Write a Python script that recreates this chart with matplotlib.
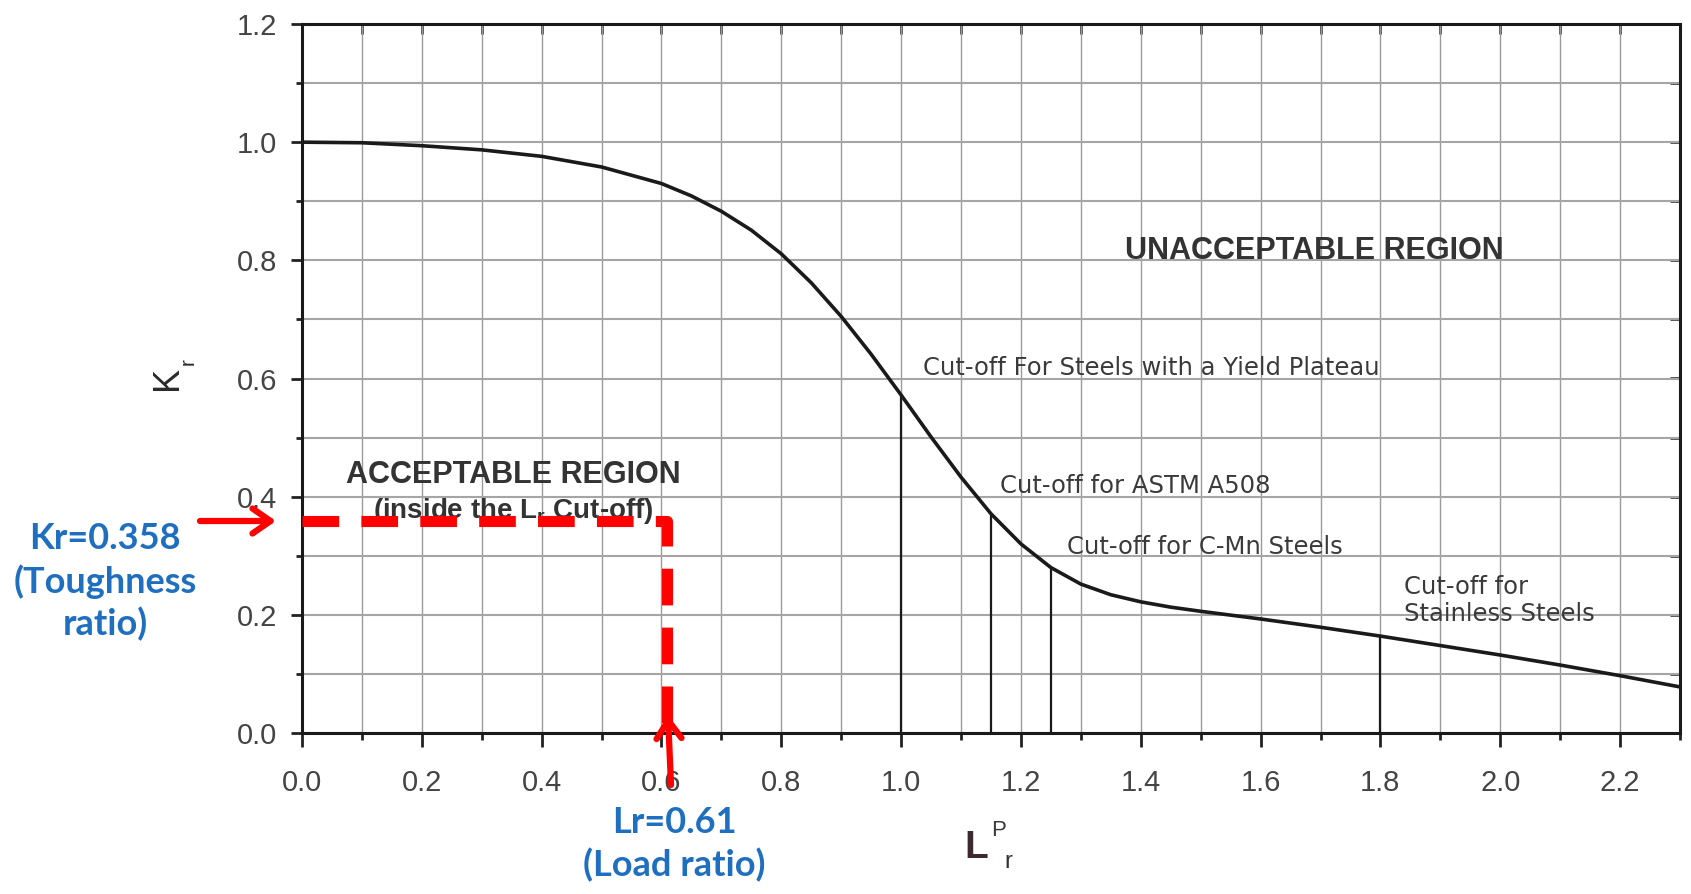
import matplotlib
matplotlib.use("Agg")
import matplotlib.pyplot as plt
from matplotlib.ticker import MultipleLocator, FixedLocator

# ---------------- data ----------------
lr_curve = [0.0, 0.1, 0.2, 0.3, 0.4, 0.5, 0.6, 0.65, 0.7, 0.75, 0.8, 0.85, 0.9, 0.95,
            1.0, 1.05, 1.1, 1.15, 1.2, 1.25, 1.3, 1.35, 1.4, 1.45, 1.5, 1.6, 1.7,
            1.8, 1.9, 2.0, 2.1, 2.2, 2.3]
kr_curve = [1.000, 0.999, 0.994, 0.987, 0.976, 0.958, 0.930, 0.909, 0.883, 0.851, 0.811,
            0.762, 0.705, 0.641, 0.572, 0.501, 0.433, 0.371, 0.320, 0.280, 0.252, 0.234,
            0.222, 0.213, 0.206, 0.193, 0.179, 0.164, 0.148, 0.132, 0.115, 0.097, 0.078]

cutoff_lr = [1.0, 1.15, 1.25, 1.8]
cutoff_kr = [0.572, 0.371, 0.280, 0.164]
cutoff_labels = ["Cut-off For Steels with a Yield Plateau",
                 "Cut-off for ASTM A508",
                 "Cut-off for C-Mn Steels",
                 "Cut-off for\nStainless Steels"]
cutoff_label_xy = [(1.037, 0.618), (1.165, 0.418), (1.277, 0.315), (1.839, 0.224)]

point_lr = 0.61
point_kr = 0.358

x_ticks = [0.0, 0.2, 0.4, 0.6, 0.8, 1.0, 1.2, 1.4, 1.6, 1.8, 2.0, 2.2]
y_ticks = [0.0, 0.2, 0.4, 0.6, 0.8, 1.0, 1.2]

# ---------------- figure ----------------
W, H = 1691, 894
fig = plt.figure(figsize=(W / 100, H / 100), dpi=100)
fig.patch.set_facecolor("white")

def fx(px):
    return px / W

def fy(py):
    return 1 - py / H

ax = fig.add_axes([fx(302), fy(733), fx(1680) - fx(302), fy(24) - fy(733)])
ax.set_xlim(0, 2.3)
ax.set_ylim(0, 1.2)

tick_font = "Liberation Sans"
ax.xaxis.set_major_locator(FixedLocator(x_ticks))
ax.yaxis.set_major_locator(FixedLocator(y_ticks))
ax.xaxis.set_minor_locator(MultipleLocator(0.1))
ax.yaxis.set_minor_locator(MultipleLocator(0.1))
ax.set_xticklabels([f"{v:.1f}" for v in x_ticks])
ax.set_yticklabels([f"{v:.1f}" for v in y_ticks])
for lab in ax.get_xticklabels() + ax.get_yticklabels():
    lab.set_fontfamily(tick_font)
    lab.set_fontsize(21)
    lab.set_color("#444444")

ax.tick_params(axis="x", which="major", direction="out", length=10, width=2.0, pad=16, color="#222222")
ax.tick_params(axis="x", which="minor", direction="out", length=5, width=2.0, color="#222222")
ax.tick_params(axis="y", which="major", direction="out", length=8, width=2.0, pad=10, color="#222222")
ax.tick_params(axis="y", which="minor", direction="out", length=4, width=2.0, color="#222222")

# inward ticks on top and right
secx = ax.secondary_xaxis("top")
secx.xaxis.set_major_locator(MultipleLocator(0.1))
secx.tick_params(direction="in", length=7, width=1.8, labeltop=False, color="#222222")
secy = ax.secondary_yaxis("right")
secy.yaxis.set_major_locator(MultipleLocator(0.1))
secy.tick_params(direction="in", length=7, width=1.8, labelright=False, color="#222222")
for s in list(secx.spines.values()) + list(secy.spines.values()):
    s.set_visible(False)

ax.grid(axis="x", which="both", color="#9a9a9a", linewidth=1.0)
ax.grid(axis="y", which="both", color="#a5a5a5", linewidth=1.5)
ax.set_axisbelow(True)

for s in ax.spines.values():
    s.set_linewidth(2.2)
    s.set_color("#1a1a1a")

# failure assessment curve
ax.plot(lr_curve, kr_curve, color="#1a1a1a", linewidth=2.6, zorder=4,
        solid_joinstyle="round")

# cut-off lines
for xv, yv in zip(cutoff_lr, cutoff_kr):
    ax.plot([xv, xv], [0, yv], color="#1a1a1a", linewidth=1.6, zorder=4)

for txt, (tx, ty) in zip(cutoff_labels, cutoff_label_xy):
    ax.text(tx, ty, txt, fontsize=17.5, family="DejaVu Sans", color="#3a3a3a",
            ha="left", va="center", linespacing=1.15, zorder=5)

# region labels
ax.text(1.69, 0.815, "UNACCEPTABLE REGION", fontsize=22, family="Liberation Sans",
        fontweight="bold", color="#333333", ha="center", va="center", zorder=5)
ax.text(0.353, 0.437, "ACCEPTABLE REGION", fontsize=22, family="Liberation Sans",
        fontweight="bold", color="#333333", ha="center", va="center", zorder=5)
ax.text(0.353, 0.376, r"(inside the L$_\mathregular{r}$ Cut-off)", fontsize=20,
        family="Liberation Sans", fontweight="bold", color="#333333",
        ha="center", va="center", zorder=5)

# red dashed assessment point lines
ax.plot([0, point_lr, point_lr], [point_kr, point_kr, 0], color="#ff0000",
        linewidth=8, linestyle=(0, (3.3, 2.0)), dash_capstyle="butt",
        solid_joinstyle="miter", zorder=6, clip_on=False)

# axis labels
fig.text(fx(167), fy(378), "K", rotation=90, fontsize=26, family="Liberation Sans",
         color="#2a2a2a", ha="center", va="center")
fig.text(fx(188), fy(362), "r", rotation=90, fontsize=15, family="Liberation Sans",
         color="#2a2a2a", ha="center", va="center")
fig.text(fx(976), fy(848), "L", fontsize=28, family="Liberation Sans", fontweight="bold",
         color="#3d2a30", ha="center", va="center")
fig.text(fx(999), fy(831), "P", fontsize=16, family="Liberation Sans",
         color="#3a3a3a", ha="center", va="center")
fig.text(fx(1008), fy(862), "r", fontsize=17, family="Liberation Sans",
         color="#3a2a3a", ha="center", va="center")

# red arrows
arrow_kw = dict(arrowstyle="->,head_length=1.3,head_width=0.9", color="#ff0000",
                linewidth=4.5, shrinkA=0, shrinkB=0)
ax.annotate("", xy=(fx(276), fy(521)), xytext=(fx(200), fy(521)),
            xycoords="figure fraction", textcoords="figure fraction",
            arrowprops=arrow_kw, annotation_clip=False, zorder=8)
ax.annotate("", xy=(fx(668), fy(715)), xytext=(fx(671), fy(785)),
            xycoords="figure fraction", textcoords="figure fraction",
            arrowprops=arrow_kw, annotation_clip=False, zorder=8)

# blue explanatory text
blue = "#1f6fc0"
fig.text(fx(105), fy(582), "Kr=0.358\n(Toughness\nratio)", fontsize=26, family="Lato",
         fontweight="bold", color=blue, ha="center", va="center", multialignment="center",
         linespacing=1.3)
fig.text(fx(674), fy(844), "Lr=0.61\n(Load ratio)", fontsize=26, family="Lato",
         fontweight="bold", color=blue, ha="center", va="center", multialignment="center",
         linespacing=1.3)

fig.savefig("out.png", dpi=100, facecolor="white")
